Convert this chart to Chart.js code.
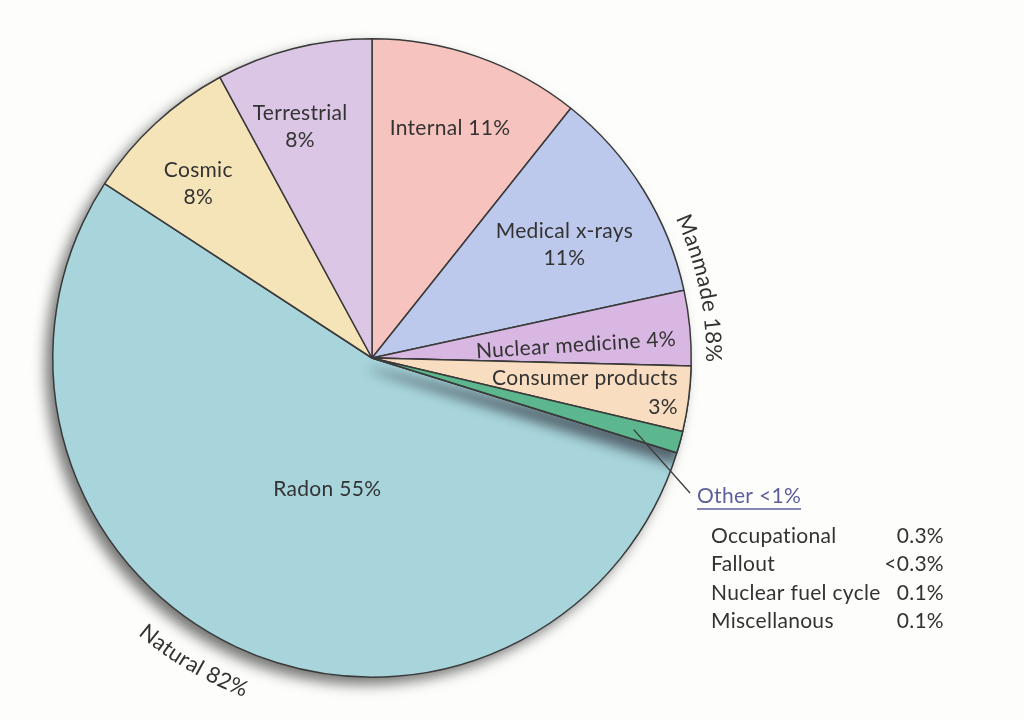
<!DOCTYPE html>
<html>
<head>
<meta charset="utf-8">
<title>Radiation sources</title>
<script src="https://cdn.jsdelivr.net/npm/chart.js@4.4.0/dist/chart.umd.min.js"></script>
<style>
  body { margin: 0; background: #fdfdfc; }
  #wrap { width: 1024px; height: 720px; }
</style>
</head>
<body>
<div id="wrap"><canvas id="pieChart" width="1024" height="720"></canvas></div>
<script>
// slices, clockwise from 12 o'clock
var sources = ["Internal", "Medical x-rays", "Nuclear medicine", "Consumer products", "Other", "Radon", "Cosmic", "Terrestrial"];
var shares = [10.7, 10.9, 3.8, 3.3, 1.1, 54.4, 7.9, 7.9];
var sliceLabels = [["Internal 11%"], ["Medical x-rays", "11%"], ["Nuclear medicine 4%"], ["Consumer products", "3%"], [], ["Radon 55%"], ["Cosmic", "8%"], ["Terrestrial", "8%"]];
var colors = ["#f7c3be", "#bdc9ec", "#d8b8e2", "#f8ddc0", "#5db78e", "#a8d5dc", "#f6e4b9", "#dcc6e5"];

var otherItems = ["Occupational", "Fallout", "Nuclear fuel cycle", "Miscellanous"];
var otherValues = ["0.3%", "<0.3%", "0.1%", "0.1%"];

var FONT = "Lato, 'Open Sans', sans-serif";
var TEXT = "#333333";

// label placement: fraction of radius, angle tweak (deg)
var labelR = [0.76, 0.70, 0.64, 0.67, 0, 0.435, 0.77, 0.76];
var labelTurn = [-0.5, 1.3, 1.8, -2, 0, -6.4, -2.3, -3];

function drawArcText(ctx, text, cx, cy, r, centerDeg, outward) {
  var total = ctx.measureText(text).width;
  var span = total / r;
  var a = centerDeg * Math.PI / 180 + (outward ? -span / 2 : span / 2);
  for (var i = 0; i < text.length; i++) {
    var ch = text[i];
    var w = ctx.measureText(ch).width;
    var mid = outward ? a + (w / 2) / r : a - (w / 2) / r;
    ctx.save();
    ctx.translate(cx + r * Math.sin(mid), cy - r * Math.cos(mid));
    ctx.rotate(outward ? mid : mid + Math.PI);
    ctx.textAlign = "center";
    ctx.textBaseline = "alphabetic";
    ctx.fillText(ch, 0, 0);
    ctx.restore();
    a = outward ? a + w / r : a - w / r;
  }
}

var pieShadow = {
  id: "pieShadow",
  beforeDatasetsDraw: function(chart) {
    var arc = chart.getDatasetMeta(0).data[0];
    var ctx = chart.ctx;
    ctx.save();
    ctx.shadowColor = "rgba(0,0,0,0.55)";
    ctx.shadowBlur = 14;
    ctx.shadowOffsetX = -7;
    ctx.shadowOffsetY = 7;
    ctx.fillStyle = "#a8d5dc";
    ctx.beginPath();
    ctx.arc(arc.x, arc.y, arc.outerRadius, 0, Math.PI * 2);
    ctx.fill();
    ctx.restore();
  },
  afterDatasetsDraw: function(chart) {
    // shadow thrown by the small "Other" slice onto Radon
    var meta = chart.getDatasetMeta(0);
    var arc = meta.data[4];
    var ctx = chart.ctx;
    ctx.save();
    ctx.beginPath();
    ctx.arc(arc.x, arc.y, arc.outerRadius, 0, Math.PI * 2);
    ctx.clip();
    var g = ctx.createRadialGradient(arc.x, arc.y, arc.outerRadius * 0.3, arc.x, arc.y, arc.outerRadius);
    g.addColorStop(0, "rgba(40,40,50,0.15)");
    g.addColorStop(1, "rgba(40,40,50,0.8)");
    ctx.shadowColor = "rgba(40,40,50,0.65)";
    ctx.shadowBlur = 12;
    ctx.shadowOffsetX = -2;
    ctx.shadowOffsetY = 11;
    arc.draw(ctx);
    ctx.restore();
    meta.data[3].draw(ctx);
    arc.draw(ctx);
  }
};

var pieLabels = {
  id: "pieLabels",
  afterDraw: function(chart) {
    var ctx = chart.ctx;
    var meta = chart.getDatasetMeta(0);
    var cx = meta.data[0].x, cy = meta.data[0].y, R = meta.data[0].outerRadius;
    ctx.save();
    ctx.letterSpacing = "0.3px";
    ctx.fillStyle = TEXT;
    ctx.font = "21px " + FONT;
    ctx.textBaseline = "middle";
    meta.data.forEach(function(el, i) {
      var lines = sliceLabels[i];
      if (!lines.length) return;
      var ang = (el.startAngle + el.endAngle) / 2 + labelTurn[i] * Math.PI / 180;
      var x = cx + R * labelR[i] * Math.cos(ang);
      var y = cy + R * labelR[i] * Math.sin(ang);
      if (i === 2) {
        ctx.save();
        ctx.translate(x, y);
        ctx.rotate(ang);
        ctx.textAlign = "center";
        ctx.fillText(lines[0], 0, 0);
        ctx.restore();
      } else if (i === 3) {
        ctx.textAlign = "center";
        ctx.fillText(lines[0], x, y);
        var right = x + ctx.measureText(lines[0]).width / 2;
        ctx.textAlign = "right";
        ctx.fillText(lines[1], right, y + 29);
      } else {
        ctx.textAlign = "center";
        var top = y - (lines.length - 1) * 27 / 2;
        lines.forEach(function(t, k) { ctx.fillText(t, x, top + k * 27); });
      }
    });

    // group names along the rim
    ctx.font = "22px " + FONT;
    drawArcText(ctx, "Manmade 18%", cx, cy, R + 15, 78, true);
    drawArcText(ctx, "Natural 82%", cx, cy, R + 43, 210.5, false);

    // leader for the "Other" slice
    var o = meta.data[4];
    var oa = (o.startAngle + o.endAngle) / 2;
    ctx.strokeStyle = "#3a3a3a";
    ctx.lineWidth = 1.3;
    ctx.beginPath();
    ctx.moveTo(cx + R * 0.85 * Math.cos(oa), cy + R * 0.85 * Math.sin(oa));
    ctx.lineTo(690, 493);
    ctx.stroke();

    ctx.fillStyle = "#5c5f9c";
    ctx.font = "21px " + FONT;
    ctx.textAlign = "left";
    ctx.textBaseline = "alphabetic";
    ctx.fillText("Other <1%", 697, 503);
    var ow = ctx.measureText("Other <1%").width;
    ctx.strokeStyle = "#5c5f9c";
    ctx.lineWidth = 1.5;
    ctx.beginPath();
    ctx.moveTo(697, 509);
    ctx.lineTo(697 + ow, 509);
    ctx.stroke();

    ctx.fillStyle = TEXT;
    ctx.textBaseline = "middle";
    otherItems.forEach(function(name, k) {
      var yy = 536 + k * 28.5;
      ctx.textAlign = "left";
      ctx.fillText(name, 711, yy);
      ctx.textAlign = "right";
      ctx.fillText(otherValues[k], 944, yy);
    });
    ctx.restore();
  }
};

var ctx = document.getElementById("pieChart");
var pieGraph = new Chart(ctx, {
  type: "pie",
  data: {
    labels: sources,
    datasets: [{
      data: shares,
      backgroundColor: colors,
      borderColor: "#3a3a3a",
      borderWidth: 1.5
    }]
  },
  options: {
    responsive: false,
    animation: false,
    layout: { padding: { left: 52, top: 38, right: 332, bottom: 42 } },
    plugins: {
      legend: { display: false },
      tooltip: { enabled: false }
    }
  },
  plugins: [pieShadow, pieLabels]
});
</script>
</body>
</html>
